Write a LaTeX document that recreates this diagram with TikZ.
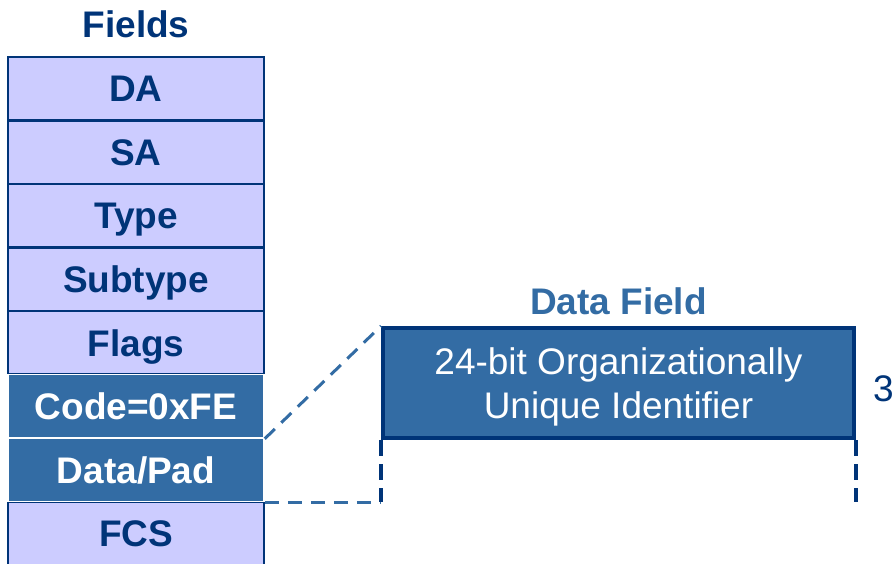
\documentclass[tikz,border=0pt]{standalone}
\usepackage{fontspec}
\setmainfont{Liberation Sans}
\usetikzlibrary{positioning}

\definecolor{fieldnavy}{HTML}{003478}
\definecolor{fieldlav}{HTML}{CCCCFF}
\definecolor{fieldblue}{HTML}{336CA4}

\tikzset{
  bigfont/.style={font=\fontsize{37}{44}\selectfont},
  lightcell/.style={rectangle, fill=fieldlav, draw=fieldnavy, line width=2.5pt,
          minimum width=256pt, minimum height=63.5pt, inner sep=0pt,
          text height=26.5pt, text depth=0pt, text=fieldnavy,
          font=\fontsize{37}{44}\selectfont\bfseries},
  darkcell/.style={lightcell, fill=fieldblue, draw=white, line width=1.5pt, text=white},
  headline/.style={inner sep=0pt, text height=26.5pt, text depth=0pt,
          font=\fontsize{37}{44}\selectfont\bfseries},
  zoomline/.style={draw=fieldblue, line width=3pt, dash pattern=on 14pt off 9pt},
  sideline/.style={draw=fieldnavy, line width=4.5pt, dash pattern=on 16pt off 8pt}
}

\begin{document}
\begin{tikzpicture}[x=1pt,y=-1pt]
\useasboundingbox (0,0) rectangle (892,564);

% frame fields
\node[headline, text=fieldnavy] (fields) at (136,24.5) {Fields};
\node[lightcell] (da) at (136,88.75) {DA};
\node[lightcell] (sa) at (136,152.25) {SA};
\node[lightcell] (type) at (136,215.75) {Type};
\node[lightcell] (subtype) at (136,279.25) {Subtype};
\node[lightcell] (flags) at (136,342.75) {Flags};
\node[lightcell] (fcs) at (136,533.25) {FCS};
\node[darkcell] (code) at (136,406.25) {Code=0xFE};
\node[darkcell] (datapad) at (136,469.75) {Data/Pad};

% data field
\node[headline, text=fieldblue] (datafield) at (618.5,301) {Data Field};
\node[rectangle, fill=fieldblue, draw=fieldnavy, line width=4pt,
          minimum width=471pt, minimum height=110pt, inner sep=0pt,
          text depth=-3pt, align=center, text=white, bigfont] (oui) at (618.5,383)
          {24-bit Organizationally\\Unique Identifier};
\node[anchor=west, inner sep=0pt, text height=26.5pt, text depth=0pt,
          text=fieldnavy, bigfont] (octets) at (873,388) {3};

% zoom lines
\coordinate (ouiL) at (oui.south west |- datapad.south east);
\coordinate (ouiR) at (oui.south east |- datapad.south east);
\draw[zoomline] (code.south east) -- (oui.north west);
\draw[zoomline] (datapad.south east) -- (ouiL);
\draw[sideline] (oui.south west) -- (ouiL);
\draw[sideline] (oui.south east) -- (ouiR);
\end{tikzpicture}
\end{document}
